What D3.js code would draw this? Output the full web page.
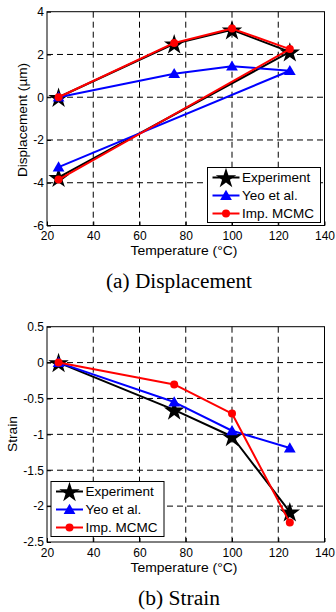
<!DOCTYPE html>
<html>
<head>
<meta charset="utf-8">
<script src="https://cdn.jsdelivr.net/npm/d3@7"></script>
<style>
  body { margin: 0; background: #fff; }
  svg { display: block; }
  .tick text { font-family: "Liberation Sans", Arial, sans-serif; font-size: 12px; fill: #000; }
</style>
</head>
<body>
<div class="holder"></div>
<script>
// temperatures (loop for displacement: heating then back to 25)
var loopTemps = [25, 75, 100, 125, 25];
var expDisp = [0, 2.5, 3.15, 2.12, -3.75];
var yeoDisp = [0, 1.1, 1.45, 1.24, -3.27];
var mcmcDisp = [0, 2.54, 3.21, 2.25, -3.85];

var strainTemps = [25, 75, 100, 125];
var expStrain = [0, -0.66, -1.03, -2.08];
var yeoStrain = [0, -0.55, -0.95, -1.19];
var mcmcStrain = [0, -0.305, -0.71, -2.23];

var xTicks = [20, 40, 60, 80, 100, 120, 140];
var dispTicks = [-6, -4, -2, 0, 2, 4];
var strainTicks = [-2.5, -2, -1.5, -1, -0.5, 0, 0.5];
var seriesNames = ["Experiment", "Yeo et al.", "Imp. MCMC"];
var seriesColors = ["#000", "#0000ff", "#ff0000"];

var svg = d3.select(".holder").append("svg")
    .attr("width", 336).attr("height", 612);

var star = d3.symbol().type(d3.symbolStar).size(130);
var tri = d3.symbol().type(d3.symbolTriangle).size(60);
var sans = "Liberation Sans, Arial, sans-serif";

function drawMarker(g, i, x, y) {
  if (i == 0) {
    g.append("path").attr("d", star).attr("transform", "translate(" + x + "," + (y + 1) + ")").style("fill", "#000");
  } else if (i == 1) {
    g.append("path").attr("d", tri).attr("transform", "translate(" + x + "," + (y + 1) + ")").style("fill", seriesColors[1]);
  } else {
    g.append("circle").attr("cx", x).attr("cy", y).attr("r", 4).style("fill", seriesColors[2]);
  }
}

function panel(opt) {
  var x = d3.scaleLinear().domain([20, 140]).range([opt.left, opt.right]);
  var y = d3.scaleLinear().domain(opt.ydom).range([opt.bottom, opt.top]);
  var g = svg.append("g");

  // dashed grid
  g.selectAll(".vgrid").data(xTicks.slice(1, -1)).enter().append("line")
      .attr("x1", d => x(d)).attr("x2", d => x(d))
      .attr("y1", opt.top).attr("y2", opt.bottom)
      .style("stroke", "#000").style("stroke-dasharray", "6,4");
  g.selectAll(".hgrid").data(opt.yticks.slice(1, -1)).enter().append("line")
      .attr("y1", d => y(d)).attr("y2", d => y(d))
      .attr("x1", opt.left).attr("x2", opt.right)
      .style("stroke", "#000").style("stroke-dasharray", "6,4");

  // axes (matlab style labels: plain hyphen, no trailing zeros)
  var xa = g.append("g").attr("transform", "translate(0," + opt.bottom + ")")
      .call(d3.axisBottom(x).tickValues(xTicks).tickSizeInner(-4).tickSizeOuter(0).tickPadding(6)
        .tickFormat(d => String(d)));
  var ya = g.append("g").attr("transform", "translate(" + opt.left + ",0)")
      .call(d3.axisLeft(y).tickValues(opt.yticks).tickSizeInner(-4).tickSizeOuter(0).tickPadding(3)
        .tickFormat(d => String(d)));
  xa.select(".domain").remove();
  ya.select(".domain").remove();
  g.append("rect").attr("x", opt.left).attr("y", opt.top)
      .attr("width", opt.right - opt.left).attr("height", opt.bottom - opt.top)
      .style("fill", "none").style("stroke", "#000");

  // series
  var line = d3.line().x(d => x(d[0])).y(d => y(d[1]));
  opt.series.forEach(function(vals, i) {
    var pts = opt.temps.map((t, k) => [t, vals[k]]);
    g.append("path").attr("d", line(pts))
        .style("fill", "none").style("stroke", seriesColors[i]).style("stroke-width", 2)
        .style("stroke-linejoin", "round");
    pts.forEach(p => drawMarker(g, i, x(p[0]), y(p[1])));
  });

  // axis titles
  g.append("text").attr("x", 184).attr("y", opt.bottom + 29.5)
      .attr("text-anchor", "middle").style("font-family", sans)
      .style("font-size", "13px").attr("textLength", 107).attr("lengthAdjust", "spacingAndGlyphs")
      .text("Temperature (\u00B0C)");
  g.append("text").attr("transform", "translate(" + opt.ylabX + "," + opt.ylabY + ") rotate(-90)")
      .attr("text-anchor", "middle").style("font-family", sans)
      .style("font-size", "13px").attr("textLength", opt.ylabLen).attr("lengthAdjust", "spacingAndGlyphs")
      .text(opt.ylabel);

  // legend
  var lg = g.append("g").attr("transform", "translate(" + opt.legX + "," + opt.legY + ")");
  lg.append("rect").attr("width", opt.legW).attr("height", 55)
      .style("fill", "#fff").style("stroke", "#000");
  seriesNames.forEach(function(name, i) {
    var ly = 10 + i * 18;
    lg.append("line").attr("x1", 5).attr("x2", 32).attr("y1", ly).attr("y2", ly)
        .style("stroke", seriesColors[i]).style("stroke-width", 2);
    drawMarker(lg, i, 18.5, ly);
    lg.append("text").attr("x", 34.5).attr("y", ly).attr("dy", "0.35em")
        .style("font-family", sans).style("font-size", "13.5px")
        .text(name);
  });

  // caption
  svg.append("text").attr("x", 179).attr("y", opt.capY).attr("text-anchor", "middle")
      .style("font-family", "Liberation Serif, Times New Roman, serif").style("font-size", "20px")
      .attr("textLength", opt.capLen).attr("lengthAdjust", "spacingAndGlyphs")
      .text(opt.caption);
}

panel({
  left: 47, right: 324.5, top: 11.7, bottom: 225.5,
  ydom: [-6, 4], yticks: dispTicks, temps: loopTemps,
  series: [expDisp, yeoDisp, mcmcDisp],
  ylabel: "Displacement (\u00B5m)", ylabX: 27, ylabY: 120, ylabLen: 114,
  legX: 207.5, legY: 167.5, legW: 113,
  caption: "(a) Displacement", capY: 288, capLen: 146
});

panel({
  left: 47, right: 324.5, top: 326.7, bottom: 542,
  ydom: [-2.5, 0.5], yticks: strainTicks, temps: strainTemps,
  series: [expStrain, yeoStrain, mcmcStrain],
  ylabel: "Strain", ylabX: 17, ylabY: 434, ylabLen: 36,
  legX: 51, legY: 481.5, legW: 113,
  caption: "(b) Strain", capY: 605, capLen: 82
});
</script>
</body>
</html>
